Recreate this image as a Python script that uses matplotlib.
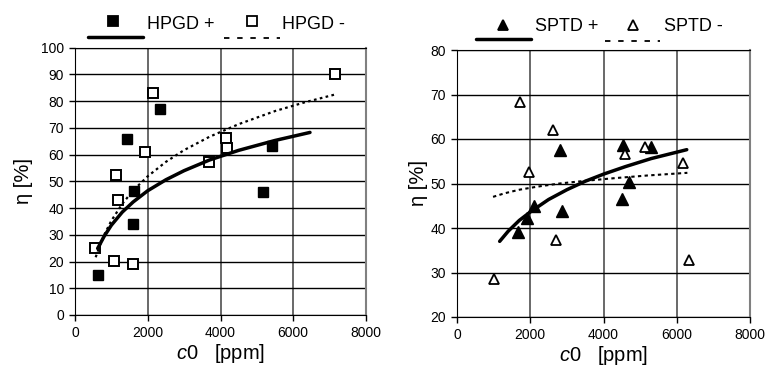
import numpy as np
import matplotlib.pyplot as plt
from matplotlib.lines import Line2D

plt.rcParams['font.family'] = ['Liberation Sans', 'DejaVu Sans']
plt.rcParams['mathtext.fontset'] = 'custom'
plt.rcParams['mathtext.it'] = 'Liberation Sans:italic'
plt.rcParams['mathtext.rm'] = 'Liberation Sans'

# HPGD (left)
hpgd_pos_x = [642, 1420, 2339, 1631, 1604, 5178, 5425]
hpgd_pos_y = [15.0, 65.8, 76.9, 46.3, 34.2, 46.1, 63.1]
hpgd_neg_x = [550, 1082, 1604, 1128, 1191, 1925, 2138, 3684, 4142, 4179, 7137]
hpgd_neg_y = [25.1, 20.2, 19.1, 52.3, 43.0, 61.1, 83.2, 57.2, 66.2, 62.3, 90.1]
# trend curves
hpgd_pos_tx = [623, 800, 1000, 1300, 1600, 2000, 2500, 3000, 3700, 4500, 5500, 6460]
hpgd_pos_ty = [24.9, 29.4, 33.6, 38.5, 42.3, 46.5, 50.6, 54.0, 58.0, 61.6, 65.3, 68.3]
hpgd_neg_tx = [568, 700, 800, 1000, 1300, 1600, 2000, 2500, 3000, 3700, 4500, 5500, 6300, 7150]
hpgd_neg_ty = [21.6, 26.6, 29.9, 35.3, 41.6, 46.6, 51.9, 57.3, 61.7, 66.7, 71.4, 76.3, 79.5, 82.5]

# SPTD (right)
sptd_pos_x = [1654, 1909, 2109, 2800, 2854, 4500, 4545, 4690, 5300]
sptd_pos_y = [39.1, 42.3, 44.9, 57.5, 43.8, 46.6, 58.7, 50.3, 58.1]
sptd_neg_x = [1011, 1713, 1954, 2609, 2700, 4590, 5136, 6181, 6342]
sptd_neg_y = [28.5, 68.3, 52.5, 62.1, 37.2, 56.7, 58.2, 54.6, 32.7]
sptd_pos_tx = [1165, 1400, 1700, 2000, 2500, 3000, 3500, 4000, 4600, 5300, 6273]
sptd_pos_ty = [37.0, 39.3, 41.7, 43.6, 46.4, 48.6, 50.5, 52.1, 53.8, 55.6, 57.6]
sptd_neg_tx = [984, 1300, 1700, 2200, 2800, 3500, 4300, 5200, 6290]
sptd_neg_ty = [47.0, 47.8, 48.6, 49.3, 50.0, 50.6, 51.2, 51.8, 52.4]

fig = plt.figure(figsize=(7.66, 3.68), dpi=100)
W, H = 766, 368


def setup(ax, ylim, yticks):
    ax.set_xlim(0, 8000)
    ax.set_ylim(*ylim)
    ax.set_xticks([0, 2000, 4000, 6000, 8000])
    ax.set_yticks(yticks)
    ax.tick_params(labelsize=10, length=4, width=1, color='black', pad=4)
    ax.xaxis.grid(True, color='#404040', lw=1.1)
    ax.yaxis.grid(True, color='black', lw=1.0)
    ax.set_axisbelow(True)
    ax.spines['left'].set_color('black')
    ax.spines['bottom'].set_color('black')
    ax.spines['top'].set_color('black')
    ax.spines['right'].set_color('#808080')
    ax.spines['right'].set_linewidth(1.5)
    ax.set_xlabel(r'$\mathit{c0}$   [ppm]', fontsize=14.5)
    ax.set_ylabel('η [%]', fontsize=14.5)
    ax.xaxis.set_label_coords(0.5, -0.102)


ax1 = fig.add_axes([75 / W, 1 - 315 / H, 291 / W, 267.3 / H])
setup(ax1, (0, 100), range(0, 101, 10))
ax1.yaxis.set_label_coords(-0.145, 0.5)
ax1.plot(hpgd_pos_x, hpgd_pos_y, 's', ms=7.5, mfc='black', mec='black', zorder=3)
ax1.plot(hpgd_neg_x, hpgd_neg_y, 's', ms=7.5, mfc='white', mec='black', mew=1.4, zorder=3)
ax1.plot(hpgd_pos_tx, hpgd_pos_ty, '-', color='black', lw=2.5, zorder=4, solid_capstyle='round')
ax1.plot(hpgd_neg_tx, hpgd_neg_ty, color='black', lw=1.6, ls=(0, (1.2, 1.5)), zorder=4)

ax2 = fig.add_axes([457 / W, 1 - 317 / H, 293 / W, 267 / H])
setup(ax2, (20, 80), range(20, 81, 10))
ax2.yaxis.set_label_coords(-0.1, 0.5)
ax2.plot(sptd_pos_x, sptd_pos_y, '^', ms=8, mfc='black', mec='black', zorder=3)
ax2.plot(sptd_neg_x, sptd_neg_y, '^', ms=7.5, mfc='white', mec='black', mew=1.3, zorder=3)
ax2.plot(sptd_pos_tx, sptd_pos_ty, '-', color='black', lw=2.5, zorder=4, solid_capstyle='round')
ax2.plot(sptd_neg_tx, sptd_neg_ty, color='black', lw=1.5, ls=(0, (1.6, 1.6)), zorder=4)


# legends drawn in pixel positions
def px(x, y):
    return x / W, 1 - y / H


def legend(items):
    for (mx, my, marker, fill, tx, ty, label, lx0, lx1, ly, style) in items:
        fx, fy = px(mx, my)
        fig.add_artist(Line2D([fx], [fy], marker=marker, ms=6.5, mfc=fill, mec='black',
                              mew=1.3, transform=fig.transFigure))
        fx, fy = px(tx, ty)
        fig.text(fx, fy, label, fontsize=13, va='baseline', ha='left')
        a, b = px(lx0, ly)
        c, d = px(lx1, ly)
        if style == 'solid':
            fig.add_artist(Line2D([a, c], [b, d], color='black', lw=2.5,
                                  solid_capstyle='round', transform=fig.transFigure))
        else:
            fig.add_artist(Line2D([a, c], [b, d], color='black', lw=1.3, ls=(0, (3, 4.3)),
                                  transform=fig.transFigure))


legend([
    (113, 21, 's', 'black', 147, 29, 'HPGD +', 88, 143, 37, 'solid'),
    (252, 21, 's', 'white', 282, 29, 'HPGD -', 224, 280, 38, 'dot'),
])
legend([
    (503, 25, '^', 'black', 535, 31, 'SPTD +', 476, 531, 39, 'solid'),
    (633, 25, '^', 'white', 664, 31, 'SPTD -', 605, 660, 41, 'dot'),
])

fig.savefig('out.png', dpi=100)
